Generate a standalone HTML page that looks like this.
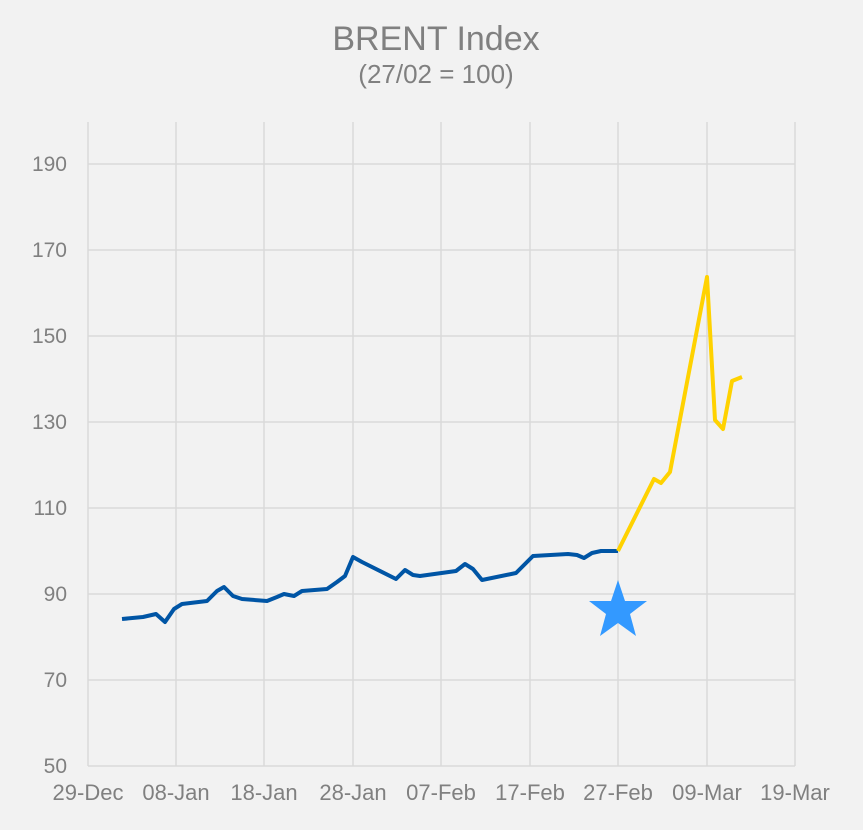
<!DOCTYPE html>
<html><head><style>body{margin:0;background:#f2f2f2}svg{display:block}</style></head><body>
<svg width="863" height="830" xmlns="http://www.w3.org/2000/svg" font-family="Liberation Sans, sans-serif">
<rect width="863" height="830" fill="#f2f2f2"/>
<text x="436" y="50" font-size="34" fill="#808080" text-anchor="middle">BRENT Index</text>
<text x="436" y="83" font-size="26" fill="#808080" text-anchor="middle">(27/02 = 100)</text>
<g stroke="#d9d9d9" stroke-width="1.5">
<line x1="88" y1="164" x2="795" y2="164"/><line x1="88" y1="250" x2="795" y2="250"/><line x1="88" y1="336" x2="795" y2="336"/><line x1="88" y1="422" x2="795" y2="422"/><line x1="88" y1="508" x2="795" y2="508"/><line x1="88" y1="594" x2="795" y2="594"/><line x1="88" y1="680" x2="795" y2="680"/>
<line x1="88" y1="122" x2="88" y2="766"/><line x1="176" y1="122" x2="176" y2="766"/><line x1="264" y1="122" x2="264" y2="766"/><line x1="353" y1="122" x2="353" y2="766"/><line x1="441" y1="122" x2="441" y2="766"/><line x1="530" y1="122" x2="530" y2="766"/><line x1="618" y1="122" x2="618" y2="766"/><line x1="707" y1="122" x2="707" y2="766"/><line x1="795" y1="122" x2="795" y2="766"/>
<line x1="88" y1="766" x2="795" y2="766"/>
</g>
<g font-size="21" fill="#808080" text-anchor="end">
<text x="67" y="171">190</text><text x="67" y="257">170</text><text x="67" y="343">150</text><text x="67" y="429">130</text><text x="67" y="515">110</text><text x="67" y="601">90</text><text x="67" y="687">70</text><text x="67" y="773">50</text>
</g>
<g font-size="22" fill="#808080" text-anchor="middle">
<text x="88" y="800">29-Dec</text><text x="176" y="800">08-Jan</text><text x="264" y="800">18-Jan</text><text x="353" y="800">28-Jan</text><text x="441" y="800">07-Feb</text><text x="530" y="800">17-Feb</text><text x="618" y="800">27-Feb</text><text x="707" y="800">09-Mar</text><text x="795" y="800">19-Mar</text>
</g>
<polyline fill="none" stroke="#0055a5" stroke-width="4" stroke-linejoin="round" points="122,619 143,617 156,614 165,622 174,609 182,604 207,601 217,591 224,587 233,596 242,599 267,601 277,597 284,594 294,596 302,591 327,589 337,582 345,576 353,557 362,562 396,579 405,570 413,575 420,576 456,571 465,564 473,569 482,580 516,573 533,556 568,554 577,555 584,558 592,553 601,551 618,551"/>
<polyline fill="none" stroke="#ffd200" stroke-width="4" stroke-linejoin="round" points="618,551 654,479 661,483 670,472 707,277 715,420 723,429 732,381 742,377"/>
<polygon fill="#3399ff" points="618,580 625,601 647,601 630,614 636,636 618,623 600,636 606,614 589,601 611,601"/>
</svg>
</body></html>
